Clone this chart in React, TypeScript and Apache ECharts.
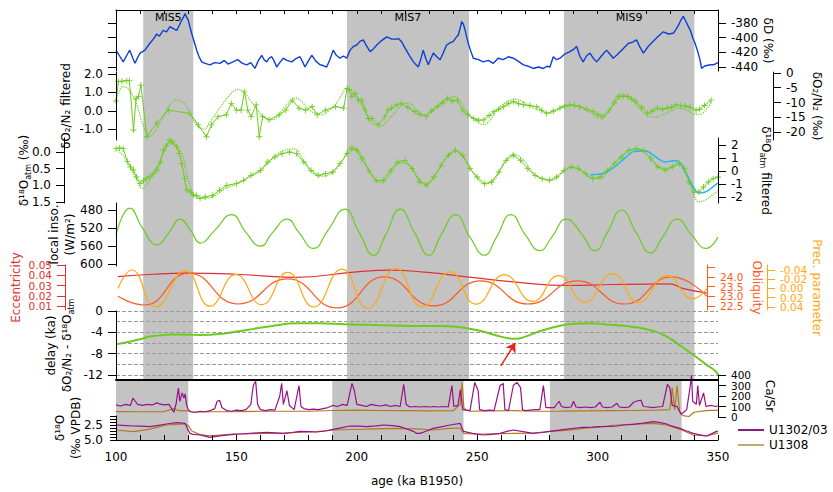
import React, { useEffect, useRef } from "react";
import * as echarts from "echarts";

const FONT = "'DejaVu Sans', Verdana, sans-serif";

// ---------- bands ----------
const misBands: [number, number, string][] = [
  [111.3, 132.1, "MIS5"],
  [195.9, 246.6, "MIS7"],
  [286.0, 340.2, "MIS9"],
];
const coreBands: [number, number][] = [
  [100, 130],
  [189.8, 244.3],
  [280.2, 334.9],
];

// ---------- axis tick labels ----------
const ageLabels = [100, 150, 200, 250, 300, 350];
const ageTicks = [100,110,120,130,140,150,160,170,180,190,200,210,220,230,240,250,260,270,280,290,300,310,320,330,340,350];
const eccTicks = [0.01, 0.02, 0.03, 0.04, 0.05];
const oblTicks = [22.5, 23, 23.5, 24, 24.5];
const oblLabels = [22.5, 23, 23.5, 24];
const precTicks = [-0.04, -0.02, 0, 0.02, 0.04];
const caTicks = [0, 100, 200, 300, 400];

// ---------- δD (‰) ----------
const dDAge = [100,101.5,103,104.5,105.7,107,107.9,109,110,112,114,115.5,116.9,118,119.6,121,122.4,124,125.2,126.3,127.3,128,128.7,129.3,130,131.4,132.5,133.5,134.5,135.6,137,139,141,143.2,145,146.5,148.6,150.5,152.5,154.3,156,157.7,159,160.5,161.5,162.6,163.6,164.7,165.7,166.7,168,169.5,171,173,174.5,176.4,177.5,178.5,180,181.3,183,184.7,186,187.5,188.8,190.2,191.5,193,194.5,195.8,197.2,198.6,200,201.3,202.7,204,205.5,207,208.3,210.3,212.4,214.5,216.6,217.3,218.7,220,221.8,223.5,225.5,226.5,227.6,228.6,229.7,230.8,231.8,233.2,234.6,236,237.3,238.7,240.1,241.2,242.2,243,243.6,244.3,245,245.7,246.3,247.3,248.4,250.5,252.5,254.6,256.7,258.7,260.8,262.9,265,267,269.2,271.3,273.3,275.4,277.5,279,280.2,281.6,283,284.4,286.5,288.5,290,291.3,292.6,294,295.4,296.8,298.2,299.6,301.6,303.7,305,306.5,308.2,310,311.5,312.7,314.5,316.2,317.6,319,321,323.1,325.2,327.3,329.4,331.4,332.5,333.6,334.6,335.6,336.7,337.7,338.5,339.5,340.5,341.5,342.5,343.2,344.3,345.3,347,348.1,350];
const dDVal = [-417,-425,-433,-424,-417,-428,-435,-427,-421,-417,-408,-402,-395,-398,-390,-392,-385,-388,-390,-383,-376,-372,-367,-372,-376,-394,-406,-417,-426,-433,-435,-437,-434,-435,-431,-436,-433,-430,-435,-437,-434,-442,-432,-424,-430,-433,-428,-426,-432,-440,-434,-428,-431,-433,-429,-426,-433,-440,-431,-424,-432,-437,-438,-440,-430,-417,-424,-428,-425,-428,-417,-412,-410,-405,-403,-411,-419,-415,-410,-404,-399,-402,-402,-401,-406,-414,-424,-433,-440,-430,-417,-428,-437,-428,-421,-426,-430,-420,-410,-407,-405,-400,-396,-386,-378,-382,-390,-400,-408,-418,-428,-430,-433,-431,-435,-428,-430,-426,-428,-432,-437,-439,-442,-440,-442,-439,-440,-426,-430,-428,-422,-419,-416,-412,-425,-433,-425,-421,-428,-433,-425,-417,-422,-428,-423,-417,-412,-408,-406,-403,-413,-421,-412,-405,-398,-392,-395,-394,-389,-383,-376,-371,-378,-385,-390,-400,-408,-418,-430,-442,-439,-438,-437,-437,-434];

// ---------- δO2/N2 raw (‰) ----------
const o2Age = [100,101,102.5,104.5,105.6,107.3,108.4,109.4,110.4,112.9,117,121.9,130.9,134.4,137.8,139.9,142.7,146.1,148.2,150.3,152.3,153.7,155.1,156.5,158.6,159.9,161.3,164,168.2,171,173.7,176.5,179.3,182,184.1,187.5,191.7,195.2,196.6,197.5,198.6,200,201.4,202.7,204.2,205.5,206.9,209.6,212.4,213.7,215.2,217.3,219.3,222,224.8,227,229.7,232,234.5,236.5,238.6,240.5,242.7,244.8,247,249.6,251.5,253.8,256,258,260,262.1,264,266.2,268.3,270.4,273,275.9,278,280,282.8,285.6,287.6,289.7,291.7,293.8,296.6,299.4,301.5,303.5,306.3,308.3,310.4,312,313.9,315.6,317.3,319.7,322.2,324.2,326.3,328.4,330.5,332.2,333.9,336,338,340,342.5,344,346,348.8];
const o2Val = [-9.5,-2.9,-2.8,-2.6,-2.6,-19.3,-8.6,-8.0,-4.1,-21.6,-17.0,-12.6,-13.7,-17.6,-21.6,-17.6,-14.8,-14.2,-10.3,-12.6,-12.6,-6.4,-12.6,-14.8,-10.8,-21.6,-14.8,-15.9,-14.2,-12.6,-9.2,-11.9,-12.6,-11.4,-14.2,-12.6,-11.4,-11.9,-5.2,-5.7,-8.0,-6.9,-9.2,-9.2,-12.6,-15.4,-15.4,-17.6,-14.8,-12.6,-11.9,-10.8,-10.3,-11.6,-13.1,-14.1,-14.8,-12.9,-11.4,-10.1,-8.6,-9.5,-9.2,-12.6,-14.1,-15.4,-16.0,-15.9,-14.4,-13.1,-12.3,-11.4,-10.4,-9.7,-10.4,-10.8,-11.0,-11.4,-12.6,-13.7,-12.9,-11.9,-11.3,-10.8,-11.0,-11.4,-12.3,-13.1,-14.1,-14.8,-12.6,-10.1,-8.0,-7.9,-8.0,-8.8,-9.7,-11.6,-13.7,-12.9,-11.9,-12.3,-11.9,-11.6,-10.8,-11.0,-11.2,-11.6,-12.6,-12.3,-11.0,-9.2];

// ---------- δO2/N2 filtered ----------
const o2fAge = [100,103,105,107.3,109.5,111.5,114.3,116,118.4,121,123,125.4,127.5,129.5,132.3,135,137,139,142,146.5,149,151.2,153.5,156,158.5,161.5,165.5,167.5,169.6,172.5,175.2,178,180.7,183.5,186.2,189,191.7,194,196.6,198.5,201.4,204,206.9,208.5,210.4,212.5,214.5,216.5,218.5,221.3,223.5,226,228.9,231,233.5,235.8,238.5,241.3,243.5,246.9,250,253.8,256.5,258.5,260.7,263.5,266.9,270,274.5,277.5,280.7,284.5,288.3,291.5,295.2,298.5,302.1,305,307.5,310.4,313,315.9,319,322.8,325.5,328.4,331.5,335.3,338.4,341,344,347,349];
const o2fVal = [0.55,1.33,1.2,0.78,0.0,-0.85,-1.4,-1.2,-0.67,0.0,0.4,0.6,0.5,0.24,-0.49,-0.94,-1.0,-0.67,-0.1,0.69,1.05,1.18,1.0,0.6,0.15,-0.31,-0.49,-0.3,0.05,0.5,0.69,0.45,0.05,-0.15,-0.22,0.0,0.33,0.8,1.24,1.1,0.6,0.0,-0.67,-0.75,-0.85,-0.7,-0.4,-0.13,0.2,0.42,0.35,0.0,-0.22,-0.1,0.2,0.42,0.65,0.78,0.6,-0.13,-0.5,-0.76,-0.5,-0.1,0.24,0.5,0.64,0.5,0.15,0.0,-0.13,0.05,0.33,0.3,0.15,-0.1,-0.4,-0.2,0.3,0.87,0.85,0.6,0.1,-0.31,-0.35,-0.22,-0.05,0.15,0.05,-0.15,-0.2,0.1,0.51];

// ---------- δ18Oatm (‰) ----------
const atmAge = [100,101.5,103,104.7,106,107.2,108.5,110,111.4,112.5,114,115.5,117,118.5,119.7,121,122.4,123.5,125.2,126.3,127.3,128.5,129.4,131,132.1,133.5,134.9,137,140,143,146,150,153,156,160,163,166,169,172,175,178,181,184,187,190,193,196,198,200,202,205,208,211,214,217,220,223,226,229,232,235,238,241,244,247,250,253,256,259,262,265,268,271,274,277,280,283,286,289,292,295,298,301,304,307,310,313,316,319,322,325,328,331,334,336,338,340,342,344,346,348,350];
const atmVal = [-0.1,-0.12,-0.1,0.29,0.45,0.54,0.75,0.94,0.86,0.8,0.74,0.65,0.54,0.3,-0.06,-0.2,-0.36,-0.3,-0.16,0.05,0.34,0.8,1.14,1.2,1.29,1.3,1.39,1.35,1.3,1.15,1.0,0.95,0.85,0.7,0.55,0.3,0.15,0.05,0.0,0.05,0.3,0.55,0.7,0.65,0.6,0.35,0.05,-0.1,-0.05,0.2,0.55,0.85,0.85,0.55,0.3,0.25,0.5,0.9,1.0,0.75,0.4,0.1,-0.05,0.1,0.5,0.75,0.95,0.9,0.6,0.25,0.1,0.25,0.5,0.7,0.8,0.85,0.75,0.55,0.45,0.5,0.65,0.8,0.75,0.55,0.35,0.15,-0.05,-0.1,-0.05,0.2,0.45,0.55,0.45,0.35,0.5,0.9,1.2,1.2,1.05,0.9,0.8,0.75];

// ---------- δ18Oatm filtered ----------
const atmfAge = [100,104,108,111,114,117,120,122.4,125,127.5,130,133,136,140,145,150,155,160,165,170,174,178,182,186,190,194,198,202,206,210,214,218,222,226,229,233,237,241,245,249,253,257,261,265,269,273,277,281,285,289,293,297,301,305,309,313,317,321,325,329,333,336,339,342,345,348,350];
const atmfVal = [1.72,0.95,-0.46,-1.33,-0.72,0.33,1.46,2.13,1.92,1.23,-0.69,-2.0,-2.1,-2.0,-1.4,-1.0,-0.5,0.0,1.0,1.6,1.7,0.8,-0.2,-0.4,-0.1,0.8,1.9,1.2,-0.3,-0.9,-0.2,0.6,0.4,-0.6,-1.0,-0.2,1.0,1.6,0.9,-0.3,-1.0,-0.7,0.6,1.3,0.9,-0.1,-0.6,-0.7,-0.2,0.3,0.1,-0.5,-0.6,0.2,1.0,1.6,1.7,1.2,0.4,0.2,0.6,0.3,-1.2,-2.38,-2.2,-1.8,-1.5];

// ---------- second filtered record (cyan) ----------
const cyanAge = [297,300,303,308,312,315,320,324,328,332,334,337,340,342,345,348,350];
const cyanVal = [-0.3,-0.25,-0.15,0.46,1.1,1.5,1.55,1.1,0.7,0.8,0.69,-0.3,-1.3,-1.69,-1.6,-1.2,-0.92];

// ---------- local insolation (W/m2) ----------
const insoAge = [100,105.8,111,117,122,126.6,131,135,141,148,154,160,165,171,176,182,188,195,201,207,212,218,224,230,235,241,247,253,258,264,270,276,281,287,293,299,304,310,316,322,327,333,339,345,350];
const insoVal = [535,476,520,557,530,500,525,553,525,490,530,560,530,500,530,565,525,478,530,580,535,478,530,580,535,490,540,580,540,490,535,570,540,500,530,570,530,480,530,575,540,500,535,565,540];

// ---------- orbital parameters ----------
const eccAge = [100,115,130,150,175,200,215,230,250,270,290,310,334,340,350];
const eccVal = [0.0386,0.041,0.042,0.041,0.038,0.043,0.045,0.043,0.038,0.033,0.03,0.031,0.0315,0.027,0.0227];
const oblAge = [100,111,130,151,172,193,213,234,254,274,295,315,335,350];
const oblVal = [23.0,22.55,24.2,22.6,23.9,22.4,24.0,22.5,23.8,22.6,23.8,22.6,24.0,23.0];
const precAge = [100,105.8,116,128.6,139,150,161,172,183,195,206,218,229,241,252,264,276,287,298,310,321,333,344,350];
const precVal = [0.0,-0.04,0.04,-0.038,0.038,-0.03,0.035,-0.035,0.04,-0.042,0.043,-0.043,0.04,-0.036,0.034,-0.03,0.028,-0.028,0.03,-0.032,0.03,-0.028,0.022,0.0];

// ---------- delay (ka) ----------
const delayAge = [100,105,110,114,120,124,130,135,145,155,165,175,185,195,205,215,225,235,245,252,258,263,266,270,276,283,290,297,305,315,322,328,334,340,345,349,350];
const delayVal = [-6.25,-5.8,-5.3,-4.8,-4.5,-4.4,-4.45,-4.5,-4.2,-3.5,-2.8,-2.3,-2.3,-2.5,-2.6,-2.7,-2.8,-2.8,-3.2,-3.8,-4.6,-5.1,-5.2,-4.8,-3.8,-2.9,-2.4,-2.3,-2.6,-3.0,-3.6,-4.6,-6.4,-8.3,-10.0,-11.3,-12.0];
const delayGrid = [0, -2, -4, -6, -8, -10, -12];

// ---------- Ca/Sr ----------
const caAge1302 = [100,102,104,106,107,108,109,111,113,115,117,118,120,122,124,125,125.9,126.5,127.5,128.2,128.7,129.3,130,131,133,135,137,139,141,142,143,144,146,148,150,152,154,156,157,158,158.8,160,162,164,166,168,168.8,169.5,171,172,174,176,176.8,178,180,182,184,186,188,190,192,194,196,198,199,200,202,204,206,208,210,212,214,216,218,219.5,220.5,222,224,226,228,230,232,234,236,238,239.5,240.3,242,243,244,245,247,249,250.4,251,253,255,257,259.5,260.8,261.5,263,265,266.5,268,268.8,270,272,274,276,277.5,278.5,280,282,284,285,287,289,290,291,293,295,297,299,301,302,304,306,308,309,311,313,315,316,318,319,321,323,325,327,329,330,331,333,334.5,335.5,337,338.5,339,339.5,341,341.6,342.3,344,345,347,349,350];
const caVal1302 = [115,105,120,110,180,150,120,110,120,115,135,125,115,120,45,130,276,150,230,180,220,120,70,50,45,55,50,60,80,150,160,90,60,55,65,60,70,120,300,340,120,70,60,70,65,200,320,120,250,110,70,300,100,80,70,75,70,80,90,110,100,120,110,320,250,120,110,100,120,110,105,115,100,110,100,310,120,95,100,95,100,95,100,95,100,95,300,100,110,260,70,65,60,330,250,70,60,65,60,300,320,70,60,300,330,280,70,60,65,70,70,300,90,90,90,150,100,90,95,150,95,90,95,90,95,140,95,90,95,130,95,90,95,140,150,160,100,95,90,95,100,310,280,110,100,30,40,70,300,400,150,120,300,110,230,100,110,100,105];
const caAge1308 = [100,110,120,124,126,130,132,140,150,160,170,180,190,200,210,220,230,240,243,243.7,244.5,247,255,265,275,285,295,305,315,325,330,331,332,333,334,335,336,338,340,345,350];
const caVal1308 = [52,50,52,80,60,58,45,50,52,55,55,55,62,65,62,60,58,60,120,330,80,55,58,60,55,56,58,60,62,65,70,280,70,300,60,20,10,5,45,60,65];

// ---------- benthic δ18O (‰ VPDB) ----------
const bAge1302 = [100,103,107.2,110,114,117,121,125.2,128.7,129.6,130.7,132,134.9,137,139,143,148.7,152,155.6,159,162.6,166,169.5,173,176.4,180,183.3,187,190.2,194,197.2,201,204.1,208,211,215,218,221,223.5,224.9,226.3,229,231.7,235,238.7,242.9,244.3,248,252.5,256,259.5,262,265,269,273.2,277,280.2,284,287.2,291,294.1,298,301,305,308,311,314.8,319,323.1,326,328.7,331,334.2,337,339.7,342,345.3,347,349.4,350];
const bVal1302 = [2.5,2.55,2.67,2.7,2.78,2.6,2.33,2.1,2.22,3.06,3.9,4.05,4.17,4.35,4.56,4.3,4.06,4.0,3.9,3.8,3.72,3.8,3.9,3.75,3.56,3.6,3.67,3.5,3.22,2.95,2.67,2.7,2.78,2.65,2.5,2.6,2.78,3.2,3.56,3.9,3.9,3.5,3.06,2.8,2.5,2.22,3.56,3.9,4.17,4.05,3.9,3.6,3.33,3.6,3.9,3.75,3.56,3.35,3.2,3.0,2.89,2.85,2.78,2.72,2.67,2.5,2.39,2.2,1.94,2.1,2.33,2.7,3.06,3.5,3.9,4.1,4.33,4.0,3.56,3.5];
const bAge1308 = [100,107.2,114,121,125.2,128.7,130,131.5,134.9,139,143,148.7,155.6,162.6,169.5,176.4,183.3,190.2,197.2,204.1,211,218,224.9,231.7,238.7,242.9,244.3,248,252.5,259.5,265,273.2,280.2,287.2,294.1,301,308,314.8,323.1,328.7,334.2,339.7,345.3,349.4,350];
const bVal1308 = [3.33,3.6,3.2,2.5,2.4,2.33,2.6,3.5,4.1,4.3,4.2,4.0,3.95,3.9,3.9,3.7,3.6,3.33,3.25,3.2,3.1,3.06,3.15,3.33,3.06,3.0,3.9,4.0,4.0,3.95,3.9,3.85,3.56,3.4,3.06,2.8,2.5,2.35,2.22,2.5,3.22,4.17,4.3,3.9,3.85];

const zip = (a: number[], b: number[]) => a.map((x, i) => [x, b[i]]);
const everyOther = (a: number[], start: number) => a.filter((_, i) => i % 2 === start);

const GREEN = "#6ccc1e";
const BLUE = "#0d3fd4";
const CYAN = "#33b5ea";
const ECC = "#e0312f";
const OBL = "#ff5a22";
const PREC = "#ffa812";
const PURPLE = "#98118a";
const BROWN = "#b5781c";
const GRAY = "#c3c3c3";
const PLUS = "path://M-1,-0.15H-0.15V-1H0.15V-0.15H1V0.15H0.15V1H-0.15V0.15H-1Z";
const SMALL = 10.5;

const rich = {
  s: { fontSize: 8, fontFamily: FONT, verticalAlign: "bottom" as const, lineHeight: 16 },
};

function yAx(o: any) {
  const color = o.color || "#000";
  const ax: any = {
    type: "value",
    gridIndex: o.grid,
    min: o.min,
    max: o.max,
    inverse: !!o.inverse,
    position: o.pos || "left",
    offset: o.offset || 0,
    z: 5,
    splitLine: { show: false },
    axisLine: { show: o.line !== false, onZero: false, lineStyle: { color, width: 1 } },
    axisTick: {
      show: !!o.ticks,
      length: o.tickLen || 8,
      lineStyle: { color, width: 1 },
      customValues: o.ticks,
    },
    axisLabel: {
      show: !!o.labels,
      customValues: o.labels,
      interval: 0,
      showMinLabel: true,
      showMaxLabel: true,
      hideOverlap: false,
      margin: 13,
      color,
      fontSize: o.fontSize || 12,
      fontFamily: FONT,
      formatter: o.fmt || ((v: number) => String(v)),
    },
  };
  if (o.name) {
    ax.name = o.name;
    ax.nameLocation = "middle";
    ax.nameGap = o.gap;
    ax.nameMoveOverlap = false;
    ax.nameRotate = o.pos === "right" ? -90 : 90;
    ax.nameTextStyle = { color, fontSize: 12, fontFamily: FONT, lineHeight: 16, rich };
  }
  if (o.hidden) ax.show = false;
  return ax;
}

function xAx(grid: number, extra: any = {}) {
  return {
    type: "value",
    gridIndex: grid,
    min: 100,
    max: 350,
    show: false,
    splitLine: { show: false },
    ...extra,
  };
}

export default function App() {
  const ref = useRef<HTMLDivElement>(null);
  useEffect(() => {
    document.body.style.margin = "0";
    const chart = echarts.init(ref.current!, null, { renderer: "svg" });
    const L = 116;
    const R = 115;
    const grid = [
      { left: L, right: R, top: 10, height: 370 },
      { left: L, right: R, top: 10, height: 61 },
      { left: L, right: R, top: 72.2, height: 67.8 },
      { left: L, right: R, top: 138, height: 65 },
      { left: L, right: R, top: 203, height: 63 },
      { left: L, right: R, top: 265, height: 45 },
      { left: L, right: R, top: 311, height: 69 },
      { left: L, right: R, top: 380, height: 60 },
      { left: L, right: R, top: 375, height: 42 },
      { left: L, right: R, top: 416, height: 24 },
    ];
    const xAxis = [
      xAx(0),
      xAx(1, {
        show: true,
        position: "top",
        z: 5,
        axisLine: { show: true, onZero: false, lineStyle: { color: "#000" } },
        axisTick: { show: true, inside: true, length: 4, lineStyle: { color: "#000" }, customValues: ageTicks },
        axisLabel: { show: false },
      }),
      xAx(2),
      xAx(3),
      xAx(4),
      xAx(5),
      xAx(6, {
        show: true,
        position: "bottom",
        z: 5,
        axisLine: { show: true, onZero: false, lineStyle: { color: "#000", width: 2 } },
        axisTick: { show: false },
        axisLabel: { show: false },
      }),
      xAx(7, {
        show: true,
        position: "bottom",
        z: 5,
        axisLine: { show: true, onZero: false, lineStyle: { color: "#000" } },
        axisTick: { show: true, inside: true, length: 5, lineStyle: { color: "#000" }, customValues: ageTicks },
        axisLabel: {
          show: true,
          customValues: ageLabels,
          interval: 0,
          showMinLabel: true,
          showMaxLabel: true,
          margin: 11,
          color: "#000",
          fontSize: 12,
          fontFamily: FONT,
        },
        name: "age (ka B1950)",
        nameLocation: "middle",
        nameGap: 35,
        nameMoveOverlap: false,
        nameTextStyle: { color: "#000", fontSize: 12, fontFamily: FONT },
      }),
      xAx(8),
      xAx(9),
    ];
    const eccR = { grid: 5, min: 0.0061, max: 0.05, pos: "left", offset: 53, color: ECC, fontSize: SMALL, fmt: (v: number) => v.toFixed(2) };
    const oblR = { grid: 5, min: 22.29, max: 24.62, pos: "right", color: OBL, fontSize: SMALL, fmt: (v: number) => v.toFixed(1) };
    const precR = { grid: 5, min: -0.0508, max: 0.0465, inverse: true, pos: "right", offset: 60, color: PREC, fontSize: SMALL, fmt: (v: number) => v.toFixed(2) };
    const caR = { grid: 8, min: 0, max: 400, pos: "right", fontSize: SMALL };
    const yAxis = [
      yAx({ grid: 0, min: 0, max: 1, hidden: true }),
      yAx({
        grid: 1, min: -445.45, max: -362.27, pos: "right",
        ticks: [-440, -420, -400, -380], labels: [-440, -420, -400, -380],
        name: "δD (‰)", gap: 42,
      }),
      yAx({ grid: 1, min: -445.45, max: -362.27, pos: "left", ticks: [-440, -420, -400, -380] }),
      yAx({
        grid: 2, min: -1.6, max: 2.11, pos: "left",
        ticks: [-1, 0, 1, 2], labels: [-1, 0, 1, 2], fmt: (v: number) => v.toFixed(1),
        name: "δO₂/N₂ filtered", gap: 42,
      }),
      yAx({
        grid: 2, min: -22.71, max: 0.27, pos: "right", offset: 59, tickLen: 8,
        ticks: [-20, -15, -10, -5, 0], labels: [-20, -15, -10, -5, 0],
        name: "δO₂/N₂ (‰)", gap: 36,
      }),
      yAx({
        grid: 3, min: -0.42, max: 1.53, inverse: true, pos: "left", offset: 52,
        ticks: [0, 0.5, 1, 1.5], labels: [0, 0.5, 1, 1.5], fmt: (v: number) => v.toFixed(1),
        name: "δ¹⁸O{s|atm} (‰)", gap: 32,
      }),
      yAx({
        grid: 3, min: -2.46, max: 2.54, pos: "right",
        ticks: [-2, -1, 0, 1, 2], labels: [-2, -1, 0, 1, 2],
        name: "δ¹⁸O{s|atm} filtered", gap: 40,
      }),
      yAx({
        grid: 4, min: 464.5, max: 603.8, inverse: true, pos: "left",
        ticks: [480, 520, 560, 600], labels: [480, 520, 560, 600],
        name: "local inso.\n(W/m²)", gap: 38,
      }),
      yAx({ ...eccR, ticks: eccTicks, labels: everyOther(eccTicks, 0), name: "Eccentricity", gap: 41 }),
      yAx({ ...oblR, ticks: oblTicks, labels: everyOther(oblLabels, 0), name: "Obliquity", gap: 42 }),
      yAx({ ...precR, ticks: precTicks, labels: everyOther(precTicks, 0), name: "Prec. parameter", gap: 42 }),
      yAx({
        grid: 6, min: -12.94, max: 0, pos: "left",
        ticks: [-12, -8, -4, 0], labels: [-12, -8, -4, 0],
        name: "delay (ka)\nδO₂/N₂ - δ¹⁸O{s|atm}", gap: 41,
      }),
      yAx({ grid: 7, min: 0, max: 1, hidden: true }),
      yAx({ ...caR, ticks: caTicks, labels: everyOther(caTicks, 0), name: "Ca/Sr", gap: 44 }),
      yAx({
        grid: 9, min: 1, max: 5, inverse: true, pos: "left", tickLen: 6,
        ticks: [1, 1.5, 2, 2.5, 3, 3.5, 4, 4.5, 5], labels: [2.5, 5],
        fmt: (v: number) => v.toFixed(1), name: "δ¹⁸O\n(‰ VPDB)", gap: 32,
      }),
      // companion label-only axes (alternate labels of densely labelled axes)
      yAx({ ...eccR, line: false, labels: everyOther(eccTicks, 1) }),
      yAx({ ...oblR, line: false, labels: everyOther(oblLabels, 1) }),
      yAx({ ...precR, line: false, labels: everyOther(precTicks, 1) }),
      yAx({ ...caR, line: false, labels: everyOther(caTicks, 1) }),
    ];

    const line = (o: any) => ({
      type: "line",
      xAxisIndex: o.x,
      yAxisIndex: o.y,
      name: o.name,
      data: o.data,
      smooth: o.smooth || false,
      showSymbol: !!o.symbol,
      symbol: o.symbol || "none",
      symbolSize: o.symbolSize || 6,
      itemStyle: { color: o.color },
      lineStyle: { color: o.color, width: o.width || 1, type: o.type || "solid" },
      silent: true,
      z: o.z ?? 2,
      markLine: o.markLine,
      markArea: o.markArea,
    });

    const series: any[] = [
      line({
        x: 0, y: 0, data: [[100, 0], [350, 0]], color: "rgba(0,0,0,0)", z: 0,
        markArea: {
          silent: true,
          itemStyle: { color: GRAY },
          label: { show: true, position: "insideTop", color: "#000", fontSize: 11, fontFamily: FONT, distance: 2 },
          data: misBands.map((b) => [{ name: b[2], xAxis: b[0] }, { xAxis: b[1] }]),
        },
      }),
      line({
        x: 7, y: 12, data: [[100, 0], [350, 0]], color: "rgba(0,0,0,0)", z: 0,
        markArea: {
          silent: true,
          itemStyle: { color: GRAY },
          label: { show: false },
          data: coreBands.map((b) => [{ xAxis: b[0] }, { xAxis: b[1] }]),
        },
      }),
      line({ x: 1, y: 1, data: zip(dDAge, dDVal), color: BLUE, width: 1.4 }),
      line({ x: 2, y: 3, data: zip(o2fAge, o2fVal), color: GREEN, width: 1.2, type: "dotted", smooth: 0.4 }),
      line({ x: 2, y: 4, data: zip(o2Age, o2Val), color: GREEN, width: 1, symbol: PLUS, symbolSize: 6 }),
      line({ x: 3, y: 6, data: zip(atmfAge, atmfVal), color: GREEN, width: 1.2, type: "dotted", smooth: 0.4 }),
      line({ x: 3, y: 6, data: zip(cyanAge, cyanVal), color: CYAN, width: 1.6, smooth: 0.3 }),
      line({ x: 3, y: 5, data: zip(atmAge, atmVal), color: GREEN, width: 1, symbol: PLUS, symbolSize: 6 }),
      line({ x: 4, y: 7, data: zip(insoAge, insoVal), color: GREEN, width: 1.2, smooth: 0.5 }),
      line({ x: 5, y: 8, data: zip(eccAge, eccVal), color: ECC, width: 1.2, smooth: 0.5 }),
      line({ x: 5, y: 9, data: zip(oblAge, oblVal), color: OBL, width: 1.2, smooth: 0.5 }),
      line({ x: 5, y: 10, data: zip(precAge, precVal), color: PREC, width: 1.2, smooth: 0.5 }),
      line({
        x: 6, y: 11, data: zip(delayAge, delayVal), color: GREEN, width: 2, smooth: 0.5,
        markLine: {
          silent: true,
          symbol: "none",
          label: { show: false },
          lineStyle: { color: "#9a9a9a", type: "dashed", width: 1 },
          data: delayGrid.map((v) => ({ yAxis: v })),
        },
      }),
      line({
        x: 6, y: 11, data: [], color: "#e8221c", z: 5,
        markLine: {
          silent: true,
          symbol: ["none", "arrow"],
          symbolSize: 9,
          label: { show: false },
          lineStyle: { color: "#e8221c", type: "solid", width: 1.5 },
          data: [[{ coord: [259.8, -10.3] }, { coord: [265.8, -6.0] }]],
        },
      }),
      line({ x: 8, y: 13, name: "U1308", data: zip(caAge1308, caVal1308), color: BROWN, width: 1.2 }),
      line({ x: 8, y: 13, name: "U1302/03", data: zip(caAge1302, caVal1302), color: PURPLE, width: 1.2 }),
      line({ x: 9, y: 14, name: "U1308", data: zip(bAge1308, bVal1308), color: BROWN, width: 1.2 }),
      line({ x: 9, y: 14, name: "U1302/03", data: zip(bAge1302, bVal1302), color: PURPLE, width: 1.2 }),
    ];

    chart.setOption({
      animation: false,
      backgroundColor: "#fff",
      textStyle: { fontFamily: FONT },
      grid,
      xAxis,
      yAxis,
      legend: {
        selectedMode: false,
        orient: "vertical",
        left: 733,
        top: 418,
        itemGap: 1,
        itemWidth: 26,
        itemHeight: 2,
        icon: "rect",
        textStyle: { color: "#000", fontSize: 12, fontFamily: FONT, lineHeight: 14 },
        data: [
          { name: "U1302/03", itemStyle: { color: "#8c1a85" } },
          { name: "U1308", itemStyle: { color: "#c9a56e" } },
        ],
      },
      series,
    });
    return () => chart.dispose();
  }, []);
  return <div ref={ref} style={{ width: 833, height: 492 }} />;
}
